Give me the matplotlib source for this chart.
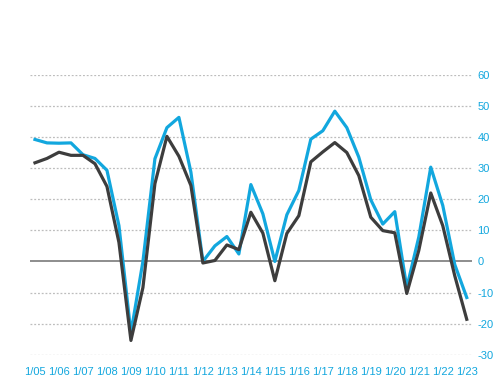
import numpy as np
import matplotlib.pyplot as plt
from matplotlib import font_manager

years = ["1/05", "1/06", "1/07", "1/08", "1/09", "1/10", "1/11", "1/12", "1/13", "1/14",
         "1/15", "1/16", "1/17", "1/18", "1/19", "1/20", "1/21", "1/22", "1/23"]

# half-yearly readings
blue = [39.2, 38.1, 38.0, 38.1, 34.3, 33.1, 29.3, 11.5, -23.0, 0.0,
        33.0, 43.0, 46.3, 28.7, 0.0, 5.0, 8.0, 2.4, 24.7, 15.3,
        0.0, 15.0, 22.8, 39.3, 42.0, 48.3, 43.0, 33.5, 19.8, 12.0,
        16.0, -8.4, 7.8, 30.3, 18.0, -1.0, -11.6]
dark = [31.7, 33.1, 35.1, 34.1, 34.1, 31.4, 24.1, 6.1, -25.4, -8.4,
        25.0, 40.2, 33.8, 24.4, -0.5, 0.3, 5.3, 3.8, 15.8, 9.1,
        -6.2, 9.0, 14.7, 32.0, 35.2, 38.2, 35.0, 27.6, 14.2, 9.9,
        9.2, -10.3, 3.5, 22.0, 11.5, -4.6, -18.6]

CYAN = "#12a7de"
DARK = "#3d3d3d"

names = {f.name for f in font_manager.fontManager.ttflist}
if 'Liberation Sans Narrow' in names:
    plt.rcParams['font.family'] = ['Liberation Sans Narrow', 'DejaVu Sans']
else:
    plt.rcParams['font.family'] = ['Liberation Sans', 'DejaVu Sans']
plt.rcParams['axes.unicode_minus'] = False

fig = plt.figure(figsize=(4.94, 3.92), dpi=100)
ax = fig.add_axes([0.0607, 0.095, 0.8948, 0.7143])

x = np.arange(len(blue))
ax.plot(x, blue, color=CYAN, lw=2.3, zorder=3)
ax.plot(x, dark, color=DARK, lw=2.3, zorder=4)

yt = np.arange(-30, 61, 10)
for v in yt:
    if v == 0:
        ax.axhline(0, color="#7a7a7a", lw=1.2, zorder=2)
    else:
        ax.axhline(v, color="#bdbdbd", lw=0.9, ls=(0, (1.5, 1.5)), zorder=1)

ax.set_xlim(-0.417, 36.44)
ax.set_ylim(-30, 60)
ax.set_xticks(np.arange(0, 37, 2))
ax.set_xticklabels(years)
ax.set_yticks(yt)
ax.yaxis.tick_right()
ax.tick_params(axis='both', length=0, colors=CYAN, labelsize=8)
ax.tick_params(axis='x', pad=9)
ax.tick_params(axis='y', pad=4)
for s in ax.spines.values():
    s.set_visible(False)

fig.savefig("out.png", dpi=100)
